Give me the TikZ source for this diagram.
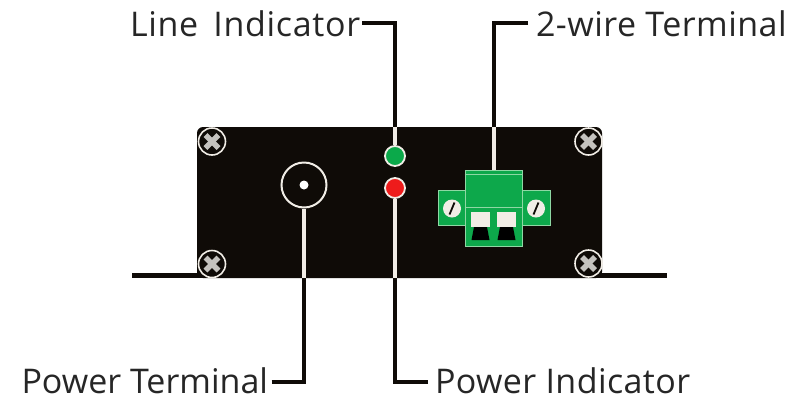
\documentclass[tikz,border=0pt]{standalone}
\usepackage{fontspec}
\setmainfont{Open Sans}
\definecolor{panel}{HTML}{0F0B07}
\definecolor{termgreen}{HTML}{0DA84B}
\definecolor{termedge}{HTML}{8ED8A4}
\definecolor{ledgreen}{HTML}{0BA94A}
\definecolor{ledred}{HTML}{EE1B1B}
\definecolor{ring}{HTML}{F1EDE6}
\definecolor{crossgrey}{HTML}{C4C2BE}
\definecolor{inktext}{HTML}{262626}
\tikzset{
  labeltext/.style={font=\fontsize{34}{34}\selectfont, text=inktext, inner sep=0pt, text depth=0pt, anchor=west},
  blackwire/.style={draw=panel, line width=4pt},
  whitewire/.style={draw=ring, line width=4pt},
  screwhead/.style={circle, draw=ring, line width=1.6pt, fill=panel, minimum size=27pt, inner sep=0pt},
  crossbar/.style={draw=crossgrey, line width=5.5pt},
  ledlamp/.style={circle, draw=ring, line width=1.8pt, minimum size=20pt, inner sep=0pt},
  termpart/.style={draw=termedge, line width=0.8pt, fill=termgreen},
  slotscrew/.style={circle, fill=ring, minimum size=18pt, inner sep=0pt},
  slotmark/.style={draw=panel, line width=1.8pt},
  socket/.style={fill=ring, draw=none},
  jaw/.style={fill=black, draw=none}
}
\begin{document}
\begin{tikzpicture}[x=1pt,y=-1pt]
\useasboundingbox[fill=white] (0,0) rectangle (811,400);
% flanges and panel
\node (flangeL) [fill=panel, minimum width=70pt, minimum height=5pt, inner sep=0pt] at (167,275.5) {};
\node (flangeR) [fill=panel, minimum width=70pt, minimum height=5pt, inner sep=0pt] at (632,275.5) {};
\node (panelbox) [fill=panel, rounded corners=6pt, minimum width=405pt, minimum height=151pt, inner sep=0pt] at (399.5,202.5) {};
% corner screws
\foreach \n/\x/\y in {sa/212/141.5, sb/212/264, sc/588.5/141.5, sd/588.5/263.5}{
  \node (\n) [screwhead] at (\x,\y) {};
  \draw[crossbar] ([shift={(-6.5,-6.5)}]\n.center) -- ([shift={(6.5,6.5)}]\n.center);
  \draw[crossbar] ([shift={(-6.5,6.5)}]\n.center) -- ([shift={(6.5,-6.5)}]\n.center);
}
% power jack
\node (jack) [circle, draw=ring, line width=2pt, minimum size=45pt, inner sep=0pt] at (304,185) {};
\node (jackpin) [circle, fill=white, minimum size=9pt, inner sep=0pt] at (304,185) {};
% LEDs
\node (ledG) [ledlamp, fill=ledgreen] at (395,156) {};
\node (ledR) [ledlamp, fill=ledred] at (395,188) {};
% terminal block
\node (wingL) [termpart, minimum width=28pt, minimum height=35pt, inner sep=0pt] at (452,208) {};
\node (wingR) [termpart, minimum width=28pt, minimum height=35pt, inner sep=0pt] at (536,208) {};
\node (term) [termpart, minimum width=57pt, minimum height=76pt, inner sep=0pt] at (493.5,208) {};
\draw[termedge, line width=0.8pt] (term.west |- 0,207) -- (term.east |- 0,207);
\draw[termedge, line width=0.8pt] (term.west |- 0,174) -- (term.east |- 0,174);
\node (slotL) [slotscrew] at (452,208.5) {};
\node (slotR) [slotscrew] at (536,208.5) {};
\draw[slotmark] ([shift={(-2.5,6)}]slotL.center) -- ([shift={(2.5,-6)}]slotL.center);
\draw[slotmark] ([shift={(-2.5,6)}]slotR.center) -- ([shift={(2.5,-6)}]slotR.center);
\foreach \x in {480.5,506.5}{
  \fill[socket] (\x-9.5,212) rectangle (\x+9.5,227);
  \fill[jaw] (\x-6.5,227) -- (\x+6.5,227) -- (\x+9,240) -- (\x-9,240) -- cycle;
}
% labels
\node (lineLabel) [labeltext, text height=26pt, outer xsep=2pt] at (128,23) {\addfontfeatures{LetterSpace=2}Line\, Indicator};
\node (wireLabel) [labeltext, text height=26pt, outer xsep=8pt] at (528,23) {\addfontfeatures{LetterSpace=1.4}2-wire Terminal};
\node (powerLabel) [labeltext, text height=23pt, outer xsep=3.5pt] at (18,382) {Power Terminal};
\node (pindLabel) [labeltext, text height=23pt, outer xsep=7pt] at (428,382) {\addfontfeatures{LetterSpace=1.2}Power Indicator};
% connector break points on the panel edge
\coordinate (edgeLine) at (ledG |- panelbox.north);
\coordinate (edgeWire) at (term |- panelbox.north);
\coordinate (edgeJack) at (jack |- panelbox.south);
\coordinate (edgeRed) at (ledR |- panelbox.south);
% connectors
\draw[blackwire] (lineLabel.east) -| (edgeLine);
\draw[whitewire] (edgeLine) -- (ledG.north);
\draw[blackwire] (wireLabel.west) -| (edgeWire);
\draw[whitewire] (edgeWire) -- (term.north);
\draw[blackwire] (powerLabel.east) -| (edgeJack);
\draw[whitewire] (edgeJack) -- (jack.south);
\draw[blackwire] (pindLabel.west) -| (edgeRed);
\draw[whitewire] (edgeRed) -- (ledR.south);
\end{tikzpicture}
\end{document}
